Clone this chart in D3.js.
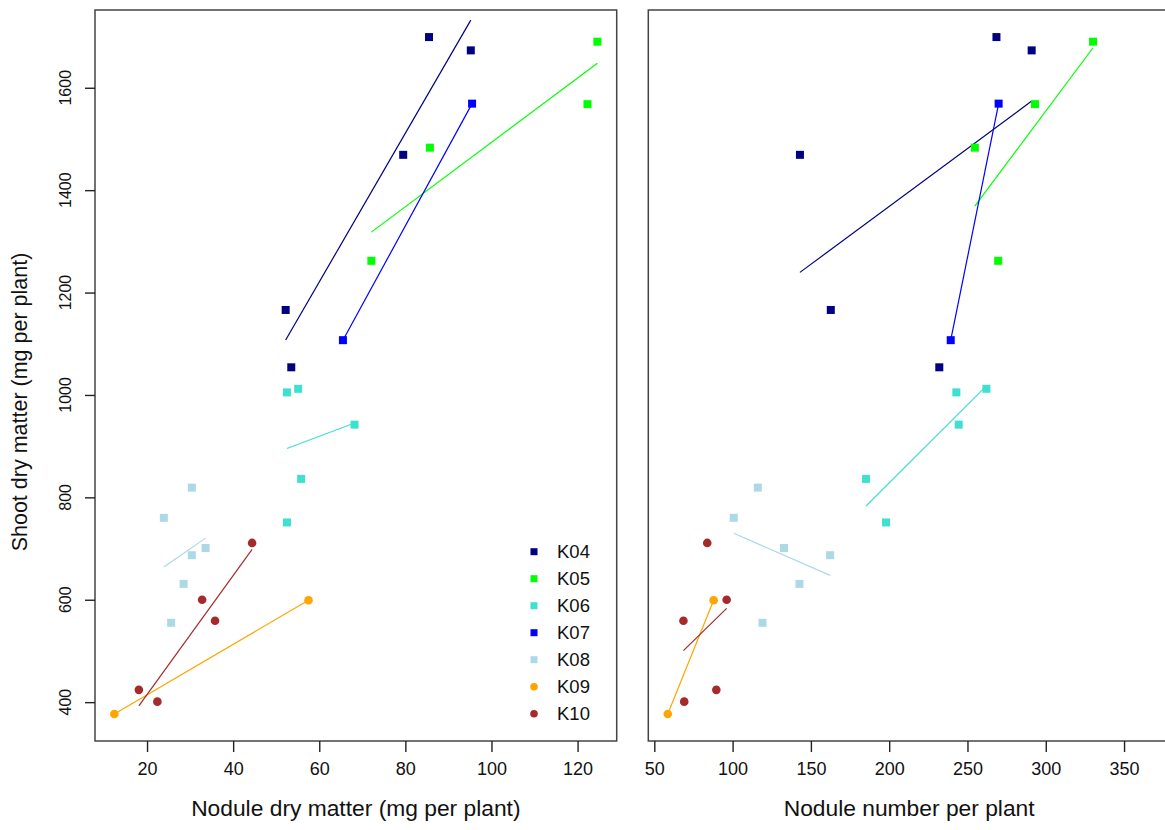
<!DOCTYPE html>
<html>
<head>
<meta charset="utf-8">
<script src="https://cdn.jsdelivr.net/npm/d3@7"></script>
<style>
  html, body { margin: 0; padding: 0; background: #fff; }
  text { font-family: "Liberation Sans", Arial, sans-serif; fill: #111; }
</style>
</head>
<body>
<svg id="chart" width="1165" height="830"></svg>
<script>
// ---- data ----
const groups = ["K04", "K05", "K06", "K07", "K08", "K09", "K10"];
const groupColors = ["#000080", "#00FF00", "#40E0D0", "#0000FF", "#ADD8E6", "#FFA500", "#A52A2A"];
const groupShapes = ["square", "square", "square", "square", "square", "circle", "circle"];

// Nodule dry matter (mg per plant)
const noduleDryMatter = {
  K04: [85.5, 95.2, 79.5, 52.2, 53.5],
  K05: [124.6, 122.3, 85.7, 72.1],
  K06: [52.5, 55.1, 68.2, 55.8, 52.5],
  K07: [95.5, 65.5],
  K08: [30.4, 23.9, 33.6, 30.4, 28.5, 25.6],
  K09: [57.5, 12.4],
  K10: [44.4, 32.8, 35.8, 18.1, 22.4]
};
// Nodule number per plant
const noduleNumber = {
  K04: [268.5, 291.0, 143.0, 162.7, 232.0],
  K05: [330.2, 293.1, 254.7, 269.6],
  K06: [242.9, 262.1, 244.4, 185.2, 198.0],
  K07: [269.9, 239.3],
  K08: [116.1, 100.7, 132.8, 162.3, 142.7, 119.1],
  K09: [87.9, 58.6],
  K10: [83.8, 96.2, 68.6, 89.6, 69.1]
};
// Shoot dry matter (mg per plant)
const shootDryMatter = {
  K04: [1699, 1673, 1469, 1166, 1054],
  K05: [1690, 1568, 1483, 1262],
  K06: [1005, 1012, 942, 836, 751],
  K07: [1569, 1107],
  K08: [819, 760, 701, 687, 631, 555],
  K09: [599, 377],
  K10: [711, 600, 559, 424, 401]
};

const yTicks = [400, 600, 800, 1000, 1200, 1400, 1600];
const xTicksLeft = [20, 40, 60, 80, 100, 120];
const xTicksRight = [50, 100, 150, 200, 250, 300, 350];
const xLimRight = [58.5, 367];   // axis limits used for the right panel
const yLabel = "Shoot dry matter (mg per plant)";
const xLabelLeft = "Nodule dry matter (mg per plant)";
const xLabelRight = "Nodule number per plant";

// ---- layout ----
const svg = d3.select("#chart");
const plotTop = 10, plotBottom = 741;
const panelLeft = { x0: 95, x1: 616.7 };
const panelRight = { x0: 648.3, x1: 1170 };

function pad(ext) { const r = ext[1] - ext[0]; return [ext[0] - 0.04 * r, ext[1] + 0.04 * r]; }

const allY = groups.flatMap(g => shootDryMatter[g]);
const allXL = groups.flatMap(g => noduleDryMatter[g]);
const y = d3.scaleLinear().domain(pad(d3.extent(allY))).range([plotBottom, plotTop]);
const xL = d3.scaleLinear().domain(pad(d3.extent(allXL))).range([panelLeft.x0, panelLeft.x1]);
const xR = d3.scaleLinear().domain(pad(xLimRight)).range([panelRight.x0, panelRight.x1]);

function fit(xs, ys) {
  const mx = d3.mean(xs), my = d3.mean(ys);
  let sxy = 0, sxx = 0;
  xs.forEach((v, i) => { sxy += (v - mx) * (ys[i] - my); sxx += (v - mx) ** 2; });
  const b = sxy / sxx, a = my - b * mx;
  const [lo, hi] = d3.extent(xs);
  return [[lo, a + b * lo], [hi, a + b * hi]];
}

function drawPanel(panel, x, xData, xTicks, xLabel) {
  const g = svg.append("g");
  groups.forEach((k, gi) => {
    const seg = fit(xData[k], shootDryMatter[k]);
    g.append("line")
      .attr("x1", x(seg[0][0])).attr("y1", y(seg[0][1]))
      .attr("x2", x(seg[1][0])).attr("y2", y(seg[1][1]))
      .attr("stroke", groupColors[gi]).attr("stroke-width", 1.2);
  });
  groups.forEach((k, gi) => {
    xData[k].forEach((xv, i) => {
      const cx = x(xv), cy = y(shootDryMatter[k][i]);
      if (groupShapes[gi] === "square") {
        g.append("rect").attr("x", cx - 4).attr("y", cy - 4).attr("width", 8).attr("height", 8)
          .attr("fill", groupColors[gi]);
      } else {
        g.append("circle").attr("cx", cx).attr("cy", cy).attr("r", 4.3).attr("fill", groupColors[gi]);
      }
    });
  });
  g.append("rect").attr("x", panel.x0).attr("y", plotTop)
    .attr("width", panel.x1 - panel.x0).attr("height", plotBottom - plotTop)
    .attr("fill", "none").attr("stroke", "#444").attr("stroke-width", 1.5);
  const ax = d3.axisBottom(x).tickValues(xTicks).tickSize(11).tickPadding(10).tickFormat(d3.format("d"));
  const axG = svg.append("g").attr("transform", `translate(0,${plotBottom})`).call(ax);
  axG.select(".domain").remove();
  axG.selectAll(".tick line").attr("stroke", "#222").attr("stroke-width", 1.4);
  axG.selectAll(".tick text").attr("font-size", 18).attr("fill", "#111")
    .attr("font-family", "Liberation Sans, Arial, sans-serif");
  svg.append("text").attr("x", (panel.x0 + panel.x1) / 2).attr("y", 816)
    .attr("text-anchor", "middle").attr("font-size", 22.8).text(xLabel);
}

drawPanel(panelLeft, xL, noduleDryMatter, xTicksLeft, xLabelLeft);
drawPanel(panelRight, xR, noduleNumber, xTicksRight, xLabelRight);

const ay = d3.axisLeft(y).tickValues(yTicks).tickSize(10).tickFormat(d3.format("d"));
const ayG = svg.append("g").attr("transform", `translate(${panelLeft.x0},0)`).call(ay);
ayG.select(".domain").remove();
ayG.selectAll(".tick line").attr("stroke", "#222").attr("stroke-width", 1.4);
ayG.selectAll(".tick text").remove();
yTicks.forEach(t => {
  svg.append("text").attr("transform", `translate(71,${y(t)}) rotate(-90)`)
    .attr("text-anchor", "middle").attr("font-size", 16).text(t);
});
svg.append("text").attr("transform", `translate(27,402) rotate(-90)`)
  .attr("text-anchor", "middle").attr("font-size", 21.5).text(yLabel);

const legend = svg.append("g");
groups.forEach((k, gi) => {
  const cy = 551.7 + 27 * gi;
  if (groupShapes[gi] === "square") {
    legend.append("rect").attr("x", 530.5).attr("y", cy - 3.5).attr("width", 7).attr("height", 7).attr("fill", groupColors[gi]);
  } else {
    legend.append("circle").attr("cx", 534).attr("cy", cy).attr("r", 3.8).attr("fill", groupColors[gi]);
  }
  legend.append("text").attr("x", 557).attr("y", cy).attr("dy", "0.35em").attr("font-size", 18.5).text(k);
});
</script>
</body>
</html>
